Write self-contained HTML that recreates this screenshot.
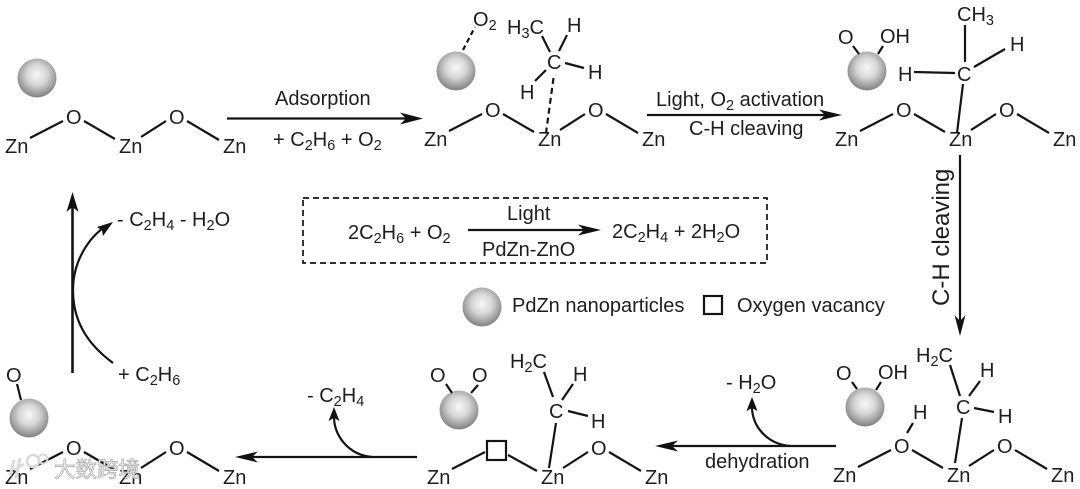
<!DOCTYPE html>
<html><head><meta charset="utf-8"><style>
html,body{margin:0;padding:0;background:#fff;width:1080px;height:489px;overflow:hidden}
svg{display:block}
text{font-family:"Liberation Sans","Noto Sans CJK SC",sans-serif;font-size:20px;fill:#1e1e1e}
.b line,.b path{stroke:#141414;stroke-width:2.2;fill:none}
.s{font-size:14.5px}
.d{stroke-dasharray:6 4}
</style></head><body>
<svg width="1080" height="489" viewBox="0 0 1080 489" xmlns="http://www.w3.org/2000/svg">
<defs>
<radialGradient id="g" cx=".5" cy=".42" r=".58"><stop offset="0" stop-color="#f8f8f8"/><stop offset=".45" stop-color="#d6d6d6"/><stop offset="1" stop-color="#808080"/></radialGradient>
</defs>

<!-- balls -->
<circle cx="37" cy="78" r="19.5" fill="url(#g)"/>
<circle cx="456" cy="71" r="19.5" fill="url(#g)"/>
<circle cx="867" cy="71" r="19.5" fill="url(#g)"/>
<circle cx="865" cy="407" r="19.5" fill="url(#g)"/>
<circle cx="459" cy="410" r="19.5" fill="url(#g)"/>
<circle cx="29" cy="418" r="19.5" fill="url(#g)"/>
<circle cx="482" cy="307" r="19.5" fill="url(#g)"/>

<!-- chain 1 -->
<g transform="translate(0,0)"><g class="b"><line x1="30" y1="138" x2="63" y2="121"/><line x1="84" y1="121" x2="115" y2="139"/><line x1="141" y1="137" x2="166" y2="121"/><line x1="187" y1="121" x2="219" y2="140"/></g>
<text x="5" y="153">Zn</text><text x="66" y="124">O</text><text x="119" y="153">Zn</text><text x="169" y="124">O</text><text x="223" y="153">Zn</text></g>
<!-- chain 2 -->
<g transform="translate(419,-7)"><g class="b"><line x1="30" y1="138" x2="63" y2="121"/><line x1="84" y1="121" x2="115" y2="139"/><line x1="141" y1="137" x2="166" y2="121"/><line x1="187" y1="121" x2="219" y2="140"/></g>
<text x="5" y="153">Zn</text><text x="66" y="124">O</text><text x="119" y="153">Zn</text><text x="169" y="124">O</text><text x="223" y="153">Zn</text></g>
<!-- chain 3 -->
<g transform="translate(830,-7)"><g class="b"><line x1="30" y1="138" x2="63" y2="121"/><line x1="84" y1="121" x2="115" y2="139"/><line x1="141" y1="137" x2="166" y2="121"/><line x1="187" y1="121" x2="219" y2="140"/></g>
<text x="5" y="153">Zn</text><text x="66" y="124">O</text><text x="119" y="153">Zn</text><text x="169" y="124">O</text><text x="223" y="153">Zn</text></g>
<!-- chain 4 -->
<g transform="translate(828,329)"><g class="b"><line x1="30" y1="138" x2="63" y2="121"/><line x1="84" y1="121" x2="115" y2="139"/><line x1="141" y1="137" x2="166" y2="121"/><line x1="187" y1="121" x2="219" y2="140"/></g>
<text x="5" y="153">Zn</text><text x="66" y="124">O</text><text x="119" y="153">Zn</text><text x="169" y="124">O</text><text x="223" y="153">Zn</text></g>
<!-- chain 5 -->
<g transform="translate(422,331)"><g class="b"><line x1="30" y1="138" x2="63" y2="121"/><line x1="86" y1="124" x2="115" y2="140"/><line x1="141" y1="137" x2="166" y2="121"/><line x1="187" y1="121" x2="219" y2="140"/></g>
<text x="5" y="153">Zn</text><rect x="65" y="110" width="19" height="19" fill="none" stroke="#141414" stroke-width="2.2"/><text x="119" y="153">Zn</text><text x="169" y="124">O</text><text x="223" y="153">Zn</text></g>
<!-- chain 6 -->
<g transform="translate(0,331)"><g class="b"><line x1="30" y1="138" x2="63" y2="121"/><line x1="84" y1="121" x2="115" y2="139"/><line x1="141" y1="137" x2="166" y2="121"/><line x1="187" y1="121" x2="219" y2="140"/></g>
<text x="5" y="153">Zn</text><text x="66" y="124">O</text><text x="119" y="153">Zn</text><text x="169" y="124">O</text><text x="223" y="153">Zn</text></g>

<!-- molecule 2 -->
<g class="b"><line class="d" x1="463" y1="50" x2="475" y2="27" style="stroke-dasharray:5 3.5"/><line x1="542" y1="36" x2="550" y2="52"/><line x1="567" y1="35" x2="559" y2="51"/><line x1="565" y1="63" x2="584" y2="68"/><line x1="546" y1="70" x2="535" y2="81"/><line class="d" x1="553.5" y1="78" x2="546" y2="133"/></g>
<text x="473" y="26">O<tspan class="s" dy="4">2</tspan></text>
<text x="507" y="34">H<tspan class="s" dy="4">3</tspan><tspan dy="-4">C</tspan></text>
<text x="567" y="32">H</text><text x="547" y="69">C</text><text x="588" y="79">H</text><text x="520" y="99">H</text>

<!-- molecule 3 -->
<g class="b"><line x1="853" y1="46" x2="859" y2="54"/><line x1="883" y1="46" x2="878" y2="54"/><line x1="965" y1="25" x2="965" y2="62"/><line x1="974" y1="67" x2="1005" y2="49"/><line x1="914" y1="72" x2="955" y2="73"/><line x1="963" y1="84" x2="957" y2="133"/></g>
<text x="838" y="44">O</text><text x="880" y="43">OH</text>
<text x="957" y="21">CH<tspan class="s" dy="4">3</tspan></text>
<text x="1010" y="51">H</text><text x="898" y="81">H</text><text x="957" y="81">C</text>

<!-- molecule 4 -->
<g class="b"><line x1="852" y1="382" x2="857" y2="389"/><line x1="881" y1="382" x2="876" y2="390"/><line x1="950" y1="365" x2="960" y2="396"/><line x1="980" y1="381" x2="969" y2="396"/><line x1="974" y1="408" x2="994" y2="412"/><line x1="962" y1="418" x2="955" y2="463"/><line x1="913" y1="423" x2="907" y2="433"/></g>
<text x="836" y="380">O</text><text x="878" y="379">OH</text>
<text x="916" y="362">H<tspan class="s" dy="4">2</tspan><tspan dy="-4">C</tspan></text>
<text x="980" y="377">H</text><text x="956" y="414">C</text><text x="998" y="423">H</text><text x="913" y="419">H</text>

<!-- molecule 5 -->
<g class="b"><line x1="446" y1="384" x2="452" y2="393"/><line x1="478" y1="385" x2="471" y2="393"/><line x1="544" y1="372" x2="553" y2="397"/><line x1="573" y1="384" x2="562" y2="400"/><line x1="568" y1="411" x2="588" y2="416"/><line x1="556" y1="423" x2="549" y2="468"/></g>
<text x="430" y="382">O</text><text x="472" y="382">O</text>
<text x="510" y="368">H<tspan class="s" dy="4">2</tspan><tspan dy="-4">C</tspan></text>
<text x="573" y="381">H</text><text x="549" y="418">C</text><text x="591" y="428">H</text>

<!-- molecule 6 -->
<g class="b"><line x1="17" y1="384" x2="21" y2="400"/></g>
<text x="6" y="382">O</text>

<!-- arrows -->
<g class="b"><line x1="227" y1="118.5" x2="410" y2="118.5"/><line x1="647" y1="115" x2="830" y2="115"/><line x1="468" y1="230" x2="590" y2="230"/><line x1="960" y1="155" x2="960" y2="325"/><line x1="836" y1="446" x2="665" y2="446"/><line x1="417" y1="457" x2="245" y2="457"/><line x1="72.5" y1="373" x2="72.5" y2="205" style="stroke-width:2.6"/>
<path d="M113 363 C86 343 73 320 73 290 C73 262 88 238 106 226"/>
<path d="M790 446 C766 444 751 425 752 404"/>
<path d="M372 457 C349 455 333 436 334 414"/></g>
<g fill="#111">
<path d="M423 118.5 L400 112.5 L406 118.5 L400 124.5Z"/>
<path d="M842 115 L819 109.5 L825 115 L819 120.5Z"/>
<path d="M601 230 L578 224.5 L584 230 L578 235.5Z"/>
<path d="M960 336 L954.5 315 L960 321 L965.5 315Z"/>
<path d="M655 446 L678 440.5 L672 446 L678 451.5Z"/>
<path d="M235 457 L258 451.5 L252 457 L258 462.5Z"/>
<path d="M72.5 192 L66.5 212 L72.5 207 L78.5 212Z"/>
<path d="M113 222 L97 227 L102 230.5 L103 236Z"/>
<path d="M752 397 L746.5 411 L752 408 L757.5 411Z"/>
<path d="M334 407 L328.5 421 L334 418 L339.5 421Z"/>
</g>

<!-- labels -->
<text x="275" y="105">Adsorption</text>
<text x="273" y="146">+ C<tspan class="s" dy="4">2</tspan><tspan dy="-4">H</tspan><tspan class="s" dy="4">6</tspan><tspan dy="-4"> + O</tspan><tspan class="s" dy="4">2</tspan></text>
<text x="656" y="106">Light, O<tspan class="s" dy="4">2</tspan><tspan dy="-4"> activation</tspan></text>
<text x="689" y="135">C-H cleaving</text>
<text transform="translate(949,306) rotate(-90)" style="font-size:24px">C-H cleaving</text>
<text x="705" y="468">dehydration</text>
<text x="726" y="389">- H<tspan class="s" dy="4">2</tspan><tspan dy="-4">O</tspan></text>
<text x="307" y="402">- C<tspan class="s" dy="4">2</tspan><tspan dy="-4">H</tspan><tspan class="s" dy="4">4</tspan></text>
<text x="117" y="226">- C<tspan class="s" dy="4">2</tspan><tspan dy="-4">H</tspan><tspan class="s" dy="4">4</tspan><tspan dy="-4"> - H</tspan><tspan class="s" dy="4">2</tspan><tspan dy="-4">O</tspan></text>
<text x="118" y="381">+ C<tspan class="s" dy="4">2</tspan><tspan dy="-4">H</tspan><tspan class="s" dy="4">6</tspan></text>

<!-- box -->
<rect x="303" y="198" width="464" height="65" fill="none" stroke="#141414" stroke-width="1.7" stroke-dasharray="6 4"/>
<text x="348" y="239">2C<tspan class="s" dy="4">2</tspan><tspan dy="-4">H</tspan><tspan class="s" dy="4">6</tspan><tspan dy="-4"> + O</tspan><tspan class="s" dy="4">2</tspan></text>
<text x="507" y="220">Light</text>
<text x="482" y="256">PdZn-ZnO</text>
<text x="612" y="238">2C<tspan class="s" dy="4">2</tspan><tspan dy="-4">H</tspan><tspan class="s" dy="4">4</tspan><tspan dy="-4"> + 2H</tspan><tspan class="s" dy="4">2</tspan><tspan dy="-4">O</tspan></text>

<!-- legend -->
<text x="512" y="312">PdZn nanoparticles</text>
<rect x="704" y="296" width="18" height="18" fill="none" stroke="#141414" stroke-width="2.2"/>
<text x="737" y="312">Oxygen vacancy</text>

<!-- watermark -->
<g>
<circle cx="33" cy="461" r="6" fill="none" stroke="#d8d8d8" stroke-width="2.5"/>
<circle cx="43" cy="459" r="4.5" fill="none" stroke="#d8d8d8" stroke-width="2"/>
<path d="M14 460 L10 476 M20 458 L16 478 M24 464 L14 470" stroke="#dcdcdc" stroke-width="3" fill="none"/>
<text x="54" y="477" style="font-size:21.5px;fill:#f4f4f4;stroke:#aaa;stroke-width:.7">大数跨境</text>
</g>
</svg>
</body></html>
